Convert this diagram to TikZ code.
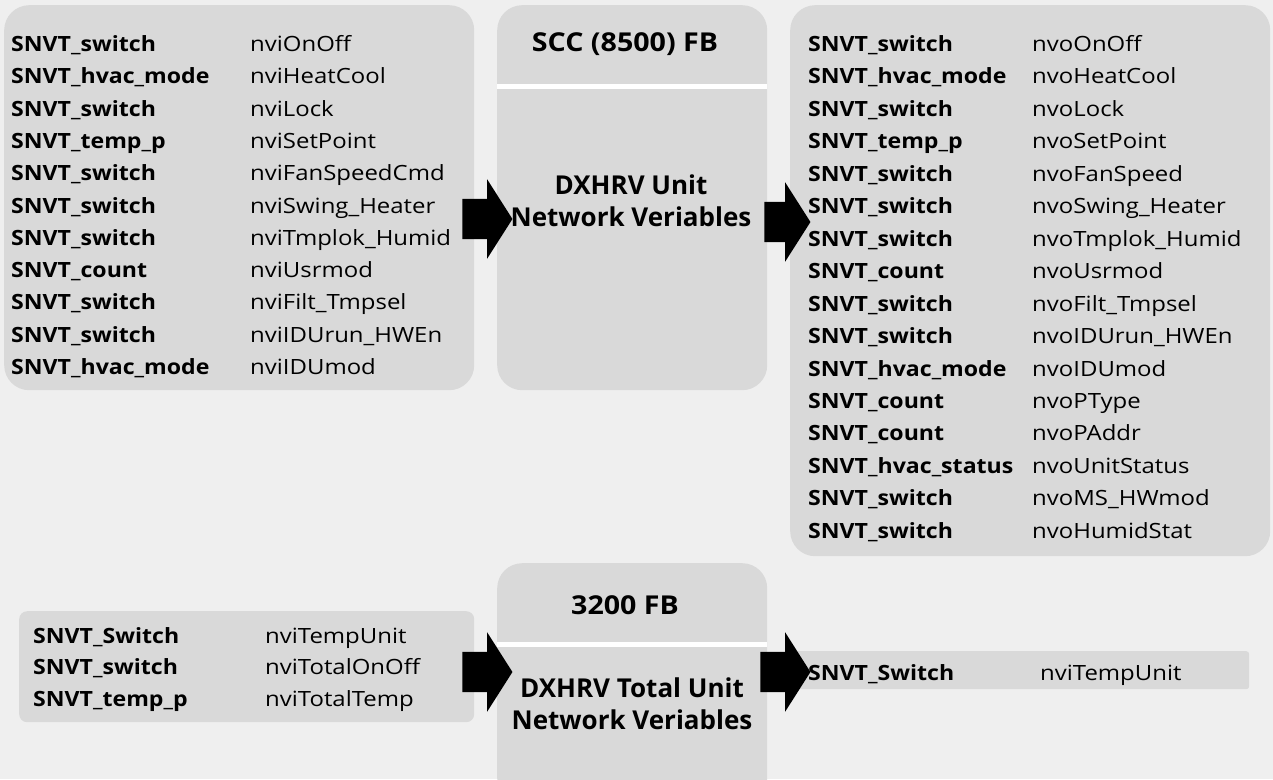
\documentclass[tikz,border=0pt]{standalone}
\usepackage{fontspec}
\setmainfont{Open Sans}
\newfontfamily\typefont[FakeStretch=1.10]{Open Sans}
\newfontfamily\namefont[FakeStretch=1.14]{Open Sans}
\usepackage{tikz}
\usetikzlibrary{shapes.arrows}

\definecolor{pagegray}{HTML}{EFEFEF}
\definecolor{boxgray}{HTML}{D9D9D9}

\begin{document}
\begin{tikzpicture} [x = 1pt, y = -1pt,
        panel/.style = {fill = boxgray, anchor = north west, inner sep = 0pt},
        typelbl/.style = {anchor = base west, inner sep = 0pt,
                font = \typefont\bfseries\fontsize{21}{24}\selectfont},
        namelbl/.style = {anchor = base west, inner sep = 0pt,
                font = \namefont\fontsize{21}{24}\selectfont},
        fbtitle/.style = {align = center, inner sep = 0pt,
                font = \typefont\bfseries\fontsize{26}{32}\selectfont},
        fbbody/.style = {align = center, inner sep = 0pt,
                font = \bfseries\fontsize{26}{32}\selectfont},
        divider/.style = {draw = white, line width = 5pt},
        blockarrow/.style = {single arrow, fill = black, inner xsep = 0pt,
                inner ysep = 20pt, minimum height = 50pt,
                single arrow head extend = 19.5pt,
                single arrow tip angle = 115}]

        % page
        \fill [pagegray] (0,0) rectangle (1273,779);
        \useasboundingbox (0,0) rectangle (1273,779);

        % upper row: SCC (8500) FB
        \node (inBox) [panel, rounded corners = 25pt, minimum width = 470pt,
                minimum height = 385pt] at (4,5) {};
        \node (sccBox) [panel, rounded corners = 25pt, minimum width = 270pt,
                minimum height = 385pt] at (497,5) {};
        \node (outBox) [panel, rounded corners = 25pt, minimum width = 480pt,
                minimum height = 551pt] at (790,5) {};
        \draw [divider] (sccBox.west |- 0,86.5) -- (sccBox.east |- 0,86.5);

        \node (sccTitle) [fbtitle] at (625,44) {SCC (8500) FB};
        \node (sccBody) [fbbody] at (631,201) {DXHRV Unit\\Network Veriables};

        \foreach \t/\n [count = \i from 0] in {switch/nviOnOff,
                hvac\_mode/nviHeatCool, switch/nviLock, temp\_p/nviSetPoint,
                switch/nviFanSpeedCmd, switch/nviSwing\_Heater,
                switch/nviTmplok\_Humid, count/nviUsrmod,
                switch/nviFilt\_Tmpsel, switch/nviIDUrun\_HWEn,
                hvac\_mode/nviIDUmod}
        {
                \node (inT\i) [typelbl] at (11, 51.5+32.3*\i) {SNVT\_\t};
                \node (inN\i) [namelbl] at (250, 51.5+32.3*\i) {\n};
        }

        \foreach \t/\n [count = \i from 0] in {switch/nvoOnOff,
                hvac\_mode/nvoHeatCool, switch/nvoLock, temp\_p/nvoSetPoint,
                switch/nvoFanSpeed, switch/nvoSwing\_Heater,
                switch/nvoTmplok\_Humid, count/nvoUsrmod,
                switch/nvoFilt\_Tmpsel, switch/nvoIDUrun\_HWEn,
                hvac\_mode/nvoIDUmod, count/nvoPType, count/nvoPAddr,
                hvac\_status/nvoUnitStatus, switch/nvoMS\_HWmod,
                switch/nvoHumidStat}
        {
                \node (outT\i) [typelbl] at (808, 51.5+32.45*\i) {SNVT\_\t};
                \node (outN\i) [namelbl] at (1032, 51.5+32.45*\i) {\n};
        }

        \node (arrA) [blockarrow] at (481,219) {};
        \node (arrB) [blockarrow, minimum height = 46pt] at (781,222) {};

        % lower row: 3200 FB
        \node (totInBox) [panel, rounded corners = 8pt, minimum width = 455pt,
                minimum height = 111pt] at (19,611) {};
        \node (totBox) [panel, rounded corners = 25pt, minimum width = 270pt,
                minimum height = 240pt] at (497,563) {};
        \node (totOutBox) [panel, rounded corners = 3pt, minimum width = 456pt,
                minimum height = 38pt] at (793,651) {};
        \draw [divider] (totBox.west |- 0,644) -- (totBox.east |- 0,644);

        \node (totTitle) [fbtitle] at (625,605) {3200 FB};
        \node (totBody) [fbbody] at (632,704)
                {DXHRV Total Unit\\Network Veriables};

        \foreach \t/\n [count = \i from 0] in {Switch/nviTempUnit,
                switch/nviTotalOnOff, temp\_p/nviTotalTemp}
        {
                \node (totInT\i) [typelbl] at (33, 643+31.7*\i) {SNVT\_\t};
                \node (totInN\i) [namelbl] at (265, 643+31.7*\i) {\n};
        }
        \node (totOutT) [typelbl] at (808,680) {SNVT\_Switch};
        \node (totOutN) [namelbl] at (1040,680) {nviTempUnit};

        \node (arrC) [blockarrow] at (481,672) {};
        \node (arrD) [blockarrow] at (779,672) {};

\end{tikzpicture}
\end{document}
